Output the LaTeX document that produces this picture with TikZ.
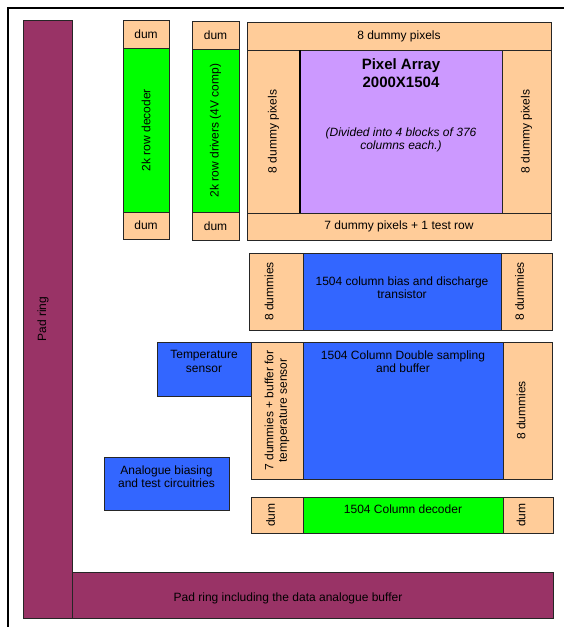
\documentclass[tikz,border=0pt]{standalone}
\usepackage{fontspec}
\setmainfont{Liberation Sans}
\usetikzlibrary{positioning}
\definecolor{peach}{HTML}{FFCC99}
\definecolor{lgreen}{HTML}{00FF00}
\definecolor{lilac}{HTML}{CC99FF}
\definecolor{cblue}{HTML}{3366FF}
\definecolor{padred}{HTML}{993366}

\begin{document}
\begin{tikzpicture}[x=1pt,y=-1pt]
 	\tikzstyle{blk}=[rectangle, draw=black!85, inner sep=0pt, outer sep=0pt, font=\fontsize{12}{13.5}\selectfont]
 	\tikzstyle{dummy}=[blk, fill=peach]
 	\tikzstyle{logic}=[blk, fill=lgreen]
 	\tikzstyle{analog}=[blk, fill=cblue]
 	\tikzstyle{pad}=[blk, fill=padred]
 	\tikzstyle{txt}=[inner sep=0pt, align=center, font=\fontsize{12}{13.5}\selectfont]
 	\useasboundingbox (0,0) rectangle (564,627);
 	\draw[line width=1.5pt] (8,627) -- (8,8) -- (564,8);
 	\node[pad, anchor=north west, minimum width=49, minimum height=598] (padv) at (23,20) {};
 	\node[pad, anchor=north west, minimum width=481, minimum height=46] (padh) at (72,572) {};
 	\node[dummy, anchor=north west, minimum width=46, minimum height=28] (rdecT) at (123,20) {dum};
 	\node[logic, minimum width=46, minimum height=164, below=0pt of rdecT] (rdec) {};
 	\node[dummy, minimum width=46, minimum height=27, below=0pt of rdec] (rdecB) {dum};
 	\node[dummy, anchor=north west, minimum width=47, minimum height=28] (rdrvT) at (192,21) {dum};
 	\node[logic, minimum width=47, minimum height=163, below=0pt of rdrvT] (rdrv) {};
 	\node[dummy, minimum width=47, minimum height=28, below=0pt of rdrv] (rdrvB) {dum};
 	\node[dummy, anchor=north west, minimum width=304, minimum height=28] (pixT) at (247,22) {8 dummy pixels};
 	\node[dummy, anchor=north west, minimum width=53, minimum height=163] (pixL) at (pixT.south west) {};
 	\node[blk, fill=lilac, minimum width=202, minimum height=163, right=0pt of pixL] (pix) {};
 	\node[dummy, minimum width=49, minimum height=163, right=0pt of pix] (pixR) {};
 	\node[dummy, anchor=north west, minimum width=304, minimum height=27] (pixB) at (pixL.south west) {7 dummy pixels + 1 test row};
 	\draw[line width=1.2pt] (pix.north west) -- (pix.south west);
 	\node[dummy, anchor=north west, minimum width=54, minimum height=77] (biasL) at (249,253) {};
 	\node[analog, minimum width=198, minimum height=77, right=0pt of biasL] (bias) {};
 	\node[dummy, minimum width=51, minimum height=77, right=0pt of bias] (biasR) {};
 	\node[analog, anchor=north west, minimum width=94, minimum height=54] (temp) at (157,342) {};
 	\node[dummy, anchor=north west, minimum width=52, minimum height=137] (cdsL) at (251,342) {};
 	\node[analog, minimum width=200, minimum height=137, right=0pt of cdsL] (cds) {};
 	\node[dummy, minimum width=49, minimum height=137, right=0pt of cds] (cdsR) {};
 	\node[analog, anchor=north west, minimum width=125, minimum height=53] (abias) at (104,457) {};
 	\node[dummy, anchor=north west, minimum width=52, minimum height=36] (cdecL) at (251,497) {};
 	\node[logic, minimum width=200, minimum height=36, right=0pt of cdecL] (cdec) {};
 	\node[dummy, minimum width=50, minimum height=36, right=0pt of cdec] (cdecR) {};
 	\node[txt, rotate=90] at ([xshift=-4.5pt]padv.center) {Pad ring};
 	\node[txt] (padtxt) at (288,598) {Pad ring including the data analogue buffer};
 	\node[txt, rotate=90] at (rdec) {2k row decoder};
 	\node[txt, rotate=90] at (rdrv) {2k row drivers (4V comp)};
 	\node[txt, rotate=90] at (pixL) {8 dummy pixels};
 	\node[txt, rotate=90] at (pixR) {8 dummy pixels};
 	\node[txt, font=\bfseries\fontsize{15}{18}\selectfont, below=8pt of pix.north] {Pixel Array\\2000X1504};
 	\node[txt, font=\itshape\fontsize{12}{13.5}\selectfont] at ([yshift=-8.5pt]pix.center) {(Divided into 4 blocks of 376\\columns each.)};
 	\node[txt, rotate=90] at ([xshift=-7pt]biasL.center) {8 dummies};
 	\node[txt] at ([yshift=4pt]bias.center) {1504 column bias and discharge\\transistor};
 	\node[txt, rotate=90] at ([xshift=-7pt]biasR.center) {8 dummies};
 	\node[txt, below=8.5pt of temp.north] {Temperature\\sensor};
 	\node[txt, rotate=90] at (cdsL) {7 dummies + buffer for\\temperature sensor};
 	\node[txt, below=8.5pt of cds.north] {1504 Column Double sampling\\and buffer};
 	\node[txt, rotate=90] at ([xshift=-6.5pt]cdsR.center) {8 dummies};
 	\node[txt, below=8.5pt of abias.north] {Analogue biasing\\and test circuitries};
 	\node[txt, rotate=90] at ([xshift=-6.5pt]cdecL.center) {dum};
 	\node[txt, below=7.5pt of cdec.north] {1504 Column decoder};
 	\node[txt, rotate=90] at ([xshift=-7pt]cdecR.center) {dum};
\end{tikzpicture}
\end{document}
